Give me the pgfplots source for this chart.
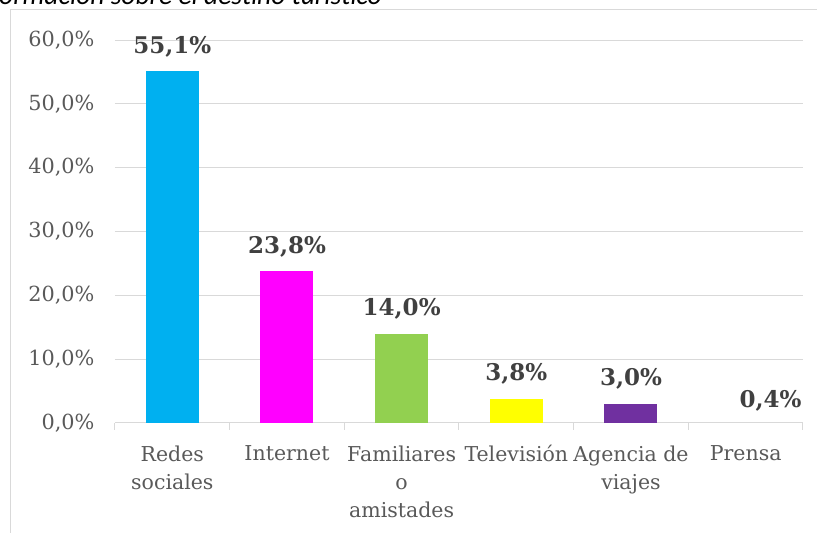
\documentclass[border=0pt]{standalone}
\usepackage{pgfplots}
\pgfplotsset{compat=1.18}
\usepackage{fontspec}
\setmainfont{DejaVu Serif}
\newfontfamily\titlefont{Carlito}
\definecolor{txt}{HTML}{595959}
\definecolor{lbl}{HTML}{404040}
\definecolor{grd}{HTML}{D9D9D9}
\definecolor{cRedes}{HTML}{00B0F0}
\definecolor{cInternet}{HTML}{FF00FF}
\definecolor{cFam}{HTML}{92D050}
\definecolor{cTele}{HTML}{FFFF00}
\definecolor{cAgen}{HTML}{7030A0}

\begin{document}
\begin{tikzpicture}[x=1pt,y=1pt]
% frame of the chart area
\draw[grd, line width=1pt] (10,0) -- (10,523) -- (817,523);
\node[anchor=base east, font=\titlefont\itshape\fontsize{27.5}{30}\selectfont, text=black, inner sep=0pt]
  at (382,528.5) {Medios de información sobre el destino turístico};

\begin{axis}[
  at={(115pt,110pt)}, anchor=south west,
  scale only axis,
  width=688pt, height=383pt,
  ybar, bar width=53pt,
  xmin=-0.5, xmax=5.5,
  ymin=0, ymax=60,
  xtick={0,1,2,3,4,5},
  xticklabels={Redes\\sociales, Internet, Familiares\\o\\amistades, Televisión, Agencia de\\viajes, Prensa},
  x tick label style={align=center, font=\fontsize{20.5}{28}\selectfont, text=txt, yshift=-19pt},
  ytick={0,10,20,30,40,50,60},
  yticklabels={{0,0\%},{10,0\%},{20,0\%},{30,0\%},{40,0\%},{50,0\%},{60,0\%}},
  y tick label style={font=\fontsize{20.8}{22}\selectfont, text=txt, xshift=-17pt},
  /pgf/number format/assume math mode=true,
  ymajorgrids, grid style={grd, line width=1pt},
  axis x line*=bottom, axis y line*=left,
  x axis line style={grd, line width=1pt, -},
  y axis line style={draw=none},
  major tick length=0pt,
  extra x ticks={-0.5,0.5,1.5,2.5,3.5,4.5,5.5},
  extra x tick labels={},
  extra x tick style={grid=none, tick align=outside, major tick length=7pt,
    tick style={grd, line width=1pt}},
  nodes near coords={\pgfmathprintnumber[fixed,fixed zerofill,precision=1,use comma]{\pgfplotspointmeta}\%},
  every node near coord/.append style={anchor=base, yshift=18pt,
    font=\bfseries\fontsize{23}{26}\selectfont, text=lbl},
  clip=false,
]
\addplot[fill=cRedes, draw=none, bar shift=0pt] coordinates {(0,55.1)};
\addplot[fill=cInternet, draw=none, bar shift=0pt] coordinates {(1,23.8)};
\addplot[fill=cFam, draw=none, bar shift=0pt] coordinates {(2,14.0)};
\addplot[fill=cTele, draw=none, bar shift=0pt] coordinates {(3,3.8)};
\addplot[fill=cAgen, draw=none, bar shift=0pt] coordinates {(4,3.0)};
\addplot[fill=none, draw=none, bar shift=0pt,
  every node near coord/.append style={xshift=25pt, yshift=-5pt}] coordinates {(5,0.4)};
\end{axis}
\pgfresetboundingbox
\path (0,0) rectangle (817,533);
\end{tikzpicture}
\end{document}
